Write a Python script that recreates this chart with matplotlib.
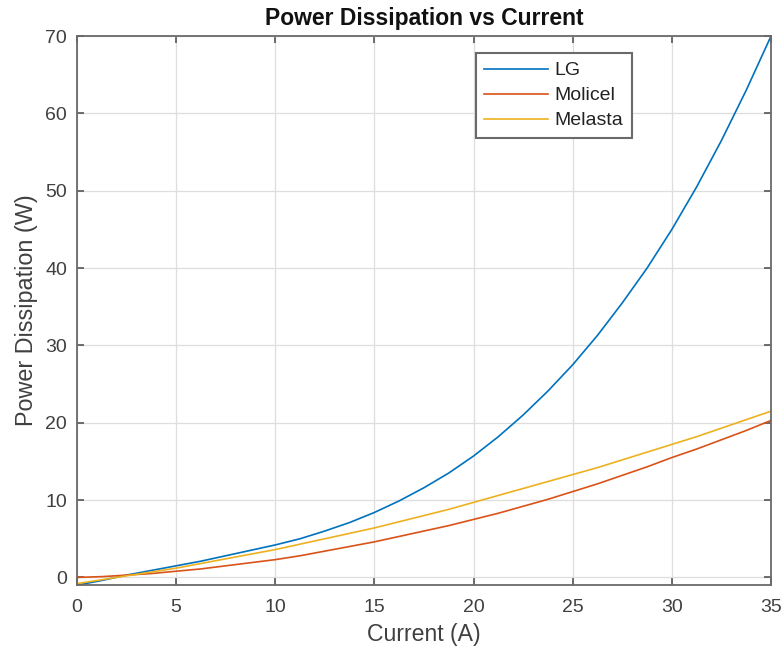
import matplotlib
matplotlib.use("Agg")
import matplotlib.pyplot as plt

plt.rcParams['font.family'] = ['Liberation Sans', 'DejaVu Sans']

current = [0, 1.25, 2.5, 3.75, 5, 6.25, 7.5, 8.75, 10, 11.25, 12.5, 13.75, 15, 16.25,
           17.5, 18.75, 20, 21.25, 22.5, 23.75, 25, 26.25, 27.5, 28.75, 30, 31.25,
           32.5, 33.75, 35]
lg = [-1.0, -0.4, 0.3, 0.9, 1.5, 2.1, 2.8, 3.5, 4.2, 5.0, 6.0, 7.1, 8.4, 9.9,
      11.6, 13.5, 15.7, 18.2, 21.0, 24.1, 27.5, 31.3, 35.5, 40.0, 45.0, 50.5,
      56.5, 63.0, 70.0]
molicel = [0.0, 0.1, 0.3, 0.5, 0.8, 1.1, 1.5, 1.9, 2.3, 2.8, 3.4, 4.0, 4.6, 5.3,
           6.0, 6.7, 7.5, 8.3, 9.2, 10.1, 11.1, 12.1, 13.2, 14.3, 15.5, 16.6,
           17.8, 19.0, 20.3]
melasta = [-0.8, -0.3, 0.2, 0.7, 1.2, 1.8, 2.4, 3.0, 3.6, 4.3, 5.0, 5.7, 6.4, 7.2,
           8.0, 8.8, 9.7, 10.6, 11.5, 12.4, 13.3, 14.2, 15.2, 16.2, 17.2, 18.2,
           19.3, 20.4, 21.5]

xticks = [0, 5, 10, 15, 20, 25, 30, 35]
yticks = [0, 10, 20, 30, 40, 50, 60, 70]

txt = '#404040'
fig = plt.figure(figsize=(7.83, 6.56), dpi=100)
ax = fig.add_axes([0.0983, 0.108, 0.8864, 0.837])

ax.plot(current, lg, color='#0072BD', lw=1.2, label='LG')
ax.plot(current, molicel, color='#D95319', lw=1.2, label='Molicel')
ax.plot(current, melasta, color='#EDB120', lw=1.2, label='Melasta')

ax.set_xlim(0, 35)
ax.set_ylim(-1, 70)
ax.set_xticks(xticks)
ax.set_yticks(yticks)
ax.grid(True, color='#dedede', lw=0.9)
ax.set_axisbelow(True)
ax.tick_params(direction='in', top=True, right=True, labelsize=14,
               colors='#555555', labelcolor=txt, length=5, width=1.2)
ax.tick_params(axis='x', pad=10)
ax.tick_params(axis='y', pad=7)
for s in ax.spines.values():
    s.set_color('#6a6a6a')
    s.set_linewidth(1.3)

ax.set_xlabel('Current (A)', fontsize=16.6, color=txt, labelpad=5)
ax.set_ylabel('Power Dissipation (W)', fontsize=16.8, color=txt, labelpad=5)
ax.set_title('Power Dissipation vs Current', fontsize=16.5, fontweight='bold', pad=8,
             color='#111111')

leg = ax.legend(loc='upper right', bbox_to_anchor=(0.7997, 0.969), fontsize=14,
                fancybox=False, edgecolor='#6a6a6a', framealpha=1,
                handlelength=3.25, borderpad=0.45, labelspacing=0.38,
                borderaxespad=0, handletextpad=0.36)
leg.get_frame().set_linewidth(1.5)
for t in leg.get_texts():
    t.set_color('#222222')

fig.savefig('out.png', dpi=100)
